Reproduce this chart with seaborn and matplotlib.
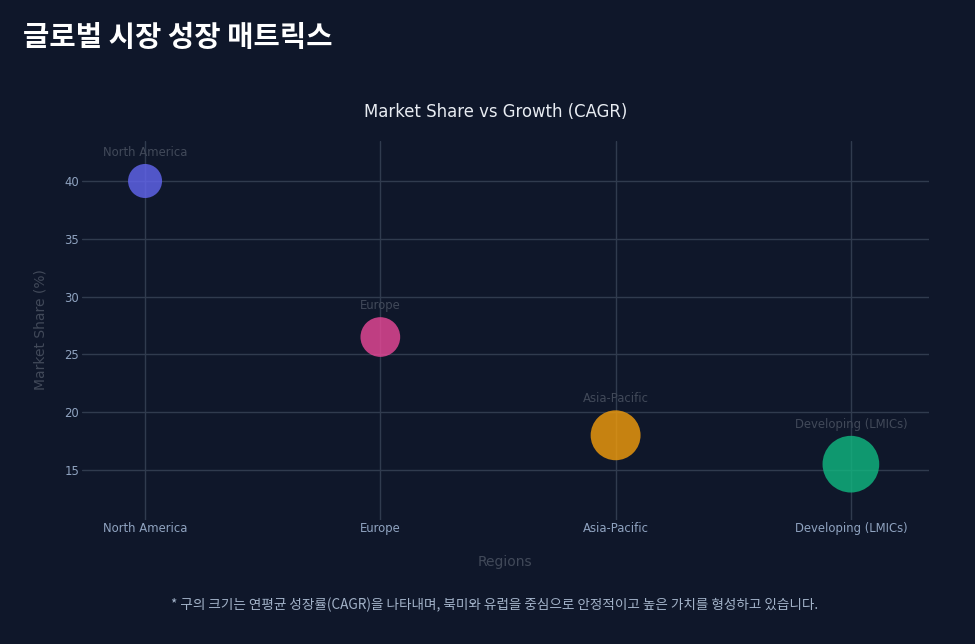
import matplotlib
matplotlib.use("Agg")
import matplotlib.pyplot as plt
import seaborn as sns
import pandas as pd

# ---- data ----
regions = ["North America", "Europe", "Asia-Pacific", "Developing (LMICs)"]
market_share = [40.0, 26.5, 18.0, 15.5]
cagr = [6.0, 7.0, 8.8, 10.0]
colors = ["#6366f1", "#ec4899", "#f59e0b", "#10b981"]
y_ticks = [15, 20, 25, 30, 35, 40]

BG = "#0f172a"
GRID = "#303b4e"
TICK = "#8fa3c0"
DIM = "#414959"

sns.set_theme(style="dark")
plt.rcParams["font.family"] = ["DejaVu Sans", "Noto Sans CJK KR"]

df = pd.DataFrame({"Region": regions, "Share": market_share, "CAGR": cagr})

PX_PER_CAGR = 5.67  # marker diameter in px per CAGR unit
PT = 0.72
size_map = {c: (c * PX_PER_CAGR * PT) ** 2 for c in cagr}

fig = plt.figure(figsize=(9.75, 6.44), dpi=100)
fig.patch.set_facecolor(BG)
W, H = 975, 644
left, right, top, bottom = 82, 929, 141, 520
ax = fig.add_axes([left / W, 1 - bottom / H, (right - left) / W, (bottom - top) / H])
ax.set_facecolor(BG)

sns.scatterplot(data=df, x="Region", y="Share", hue="Region", size="CAGR",
                palette=dict(zip(regions, colors)), sizes=size_map,
                alpha=0.8, linewidth=0, legend=False, ax=ax, zorder=3)

for i, (r, s, c) in enumerate(zip(regions, market_share, cagr)):
    radius_pt = c * PX_PER_CAGR * PT / 2
    ax.annotate(r, (i, s), xytext=(0, radius_pt + 3.5), textcoords="offset points",
                ha="center", va="bottom", color=DIM, fontsize=8.4, zorder=4)

ax.set_xlim(-0.268, 3.332)
ax.set_ylim(10.67, 43.46)
ax.set_yticks(y_ticks)
ax.grid(True, color=GRID, linewidth=1)
ax.set_axisbelow(True)
for sp in ax.spines.values():
    sp.set_visible(False)
ax.tick_params(axis="both", length=0, colors=TICK, labelsize=8.4)
ax.tick_params(axis="x", pad=1.6)
ax.tick_params(axis="y", pad=2)
ax.set_xlabel("")
ax.set_ylabel("")

fig.text(41 / W, 1 - 330 / H, "Market Share (%)", rotation=90, ha="center", va="center",
         color=DIM, fontsize=10)
fig.text(505 / W, 1 - 562 / H, "Regions", ha="center", va="center", color=DIM, fontsize=10)

fig.text(496 / W, 1 - 112 / H, "Market Share vs Growth (CAGR)", ha="center", va="center",
         color="#e8ecf2", fontsize=11.9)

fig.text(23 / W, 1 - 37 / H, "글로벌 시장 성장 매트릭스", ha="left", va="center",
         color="white", fontsize=20.6, fontweight="bold",
         family=["Noto Sans CJK KR", "DejaVu Sans"])

fig.text(495 / W, 1 - 605 / H,
         "* 구의 크기는 연평균 성장률(CAGR)을 나타내며, 북미와 유럽을 중심으로 안정적이고 높은 가치를 형성하고 있습니다.",
         ha="center", va="center", color="#a3b3c9", fontsize=9.8,
         family=["Noto Sans CJK KR", "DejaVu Sans"])

fig.savefig("out.png", dpi=100, facecolor=BG)
